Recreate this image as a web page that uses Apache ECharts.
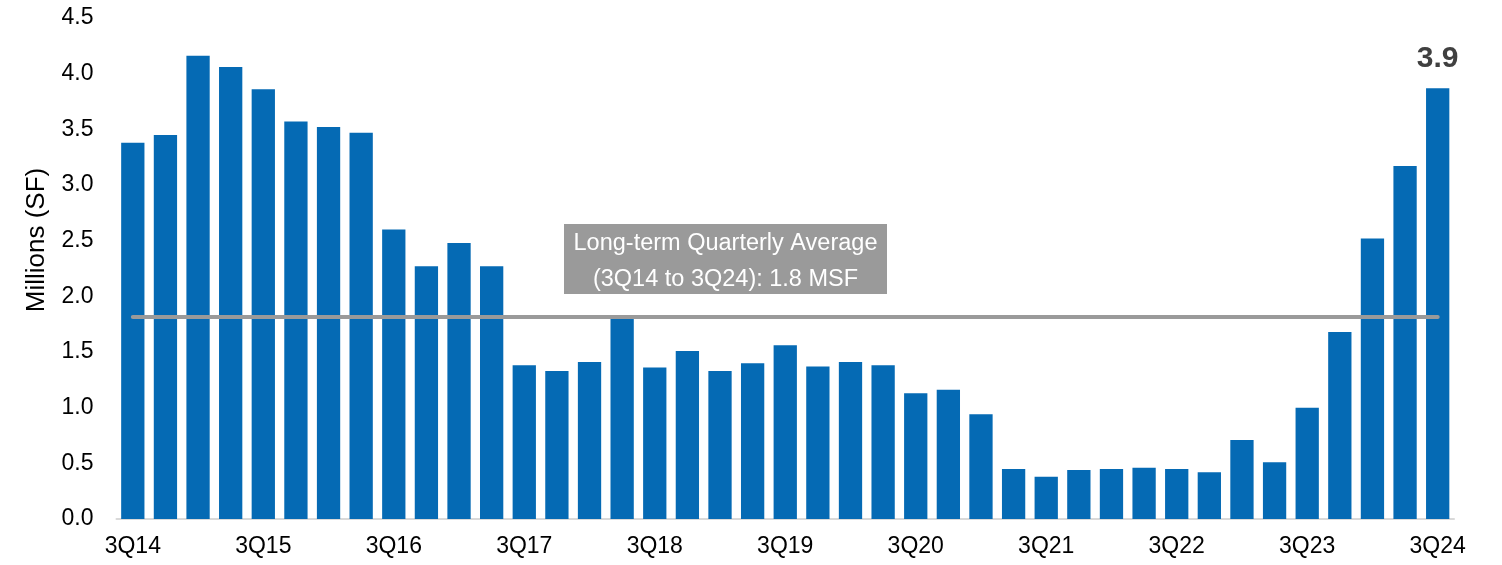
<!DOCTYPE html>
<html>
<head>
<meta charset="utf-8">
<style>
  html, body { margin: 0; padding: 0; background: #ffffff; }
  #chart { width: 1502px; height: 565px; }
</style>
<script src="https://cdn.jsdelivr.net/npm/echarts@6/dist/echarts.min.js"></script>
</head>
<body>
<div id="chart"></div>
<script>
const categories = [
  '3Q14','4Q14','1Q15','2Q15','3Q15','4Q15','1Q16','2Q16','3Q16','4Q16',
  '1Q17','2Q17','3Q17','4Q17','1Q18','2Q18','3Q18','4Q18','1Q19','2Q19',
  '3Q19','4Q19','1Q20','2Q20','3Q20','4Q20','1Q21','2Q21','3Q21','4Q21',
  '1Q22','2Q22','3Q22','4Q22','1Q23','2Q23','3Q23','4Q23','1Q24','2Q24',
  '3Q24'
];
const values = [
  3.38, 3.45, 4.16, 4.06, 3.86, 3.57, 3.52, 3.47, 2.60, 2.27,
  2.48, 2.27, 1.38, 1.33, 1.41, 1.80, 1.36, 1.51, 1.33, 1.40,
  1.56, 1.37, 1.41, 1.38, 1.13, 1.16, 0.94, 0.45, 0.38, 0.44,
  0.45, 0.46, 0.45, 0.42, 0.71, 0.51, 1.00, 1.68, 2.52, 3.17,
  3.87
];
const longTermAverage = 1.82;
const yTicks = { min: 0, max: 4.5, interval: 0.5 };
const lastLabel = '3.9';
const annotationLines = ['Long-term Quarterly Average', '(3Q14 to 3Q24): 1.8 MSF'];
const yAxisTitle = 'Millions (SF)';

const chart = echarts.init(document.getElementById('chart'));
const fontFamily = 'Liberation Sans, Arial, Helvetica, sans-serif';

const barData = values.map((v, i) => {
  if (i === values.length - 1) {
    return {
      value: v,
      label: {
        show: true,
        position: 'top',
        distance: 14,
        formatter: lastLabel,
        fontSize: 30,
        fontWeight: 'bold',
        color: '#404040',
        fontFamily: fontFamily
      }
    };
  }
  return v;
});

chart.setOption({
  animation: false,
  backgroundColor: '#ffffff',
  grid: { left: 116.5, right: 48, top: 18, bottom: 46 },
  xAxis: {
    type: 'category',
    data: categories,
    axisLine: { show: true, lineStyle: { color: '#d9d9d9', width: 2 } },
    axisTick: { show: false },
    axisLabel: {
      interval: 3,
      color: '#000000',
      fontSize: 23,
      fontFamily: fontFamily,
      margin: 16
    },
    splitLine: { show: false }
  },
  yAxis: {
    type: 'value',
    min: yTicks.min,
    max: yTicks.max,
    interval: yTicks.interval,
    axisLine: { show: false },
    axisTick: { show: false },
    splitLine: { show: false },
    axisLabel: {
      color: '#000000',
      fontSize: 23,
      fontFamily: fontFamily,
      margin: 23,
      formatter: v => v.toFixed(1)
    }
  },
  graphic: [
    {
      type: 'text',
      x: 37,
      y: 240,
      rotation: Math.PI / 2,
      style: {
        text: yAxisTitle,
        fill: '#000000',
        font: '26px ' + fontFamily,
        textAlign: 'center',
        textVerticalAlign: 'middle'
      }
    },
    {
      type: 'rect',
      shape: { x: 564, y: 224, width: 323, height: 70 },
      style: { fill: '#9a9a9a' },
      z: 10
    },
    {
      type: 'text',
      x: 725.5,
      y: 244,
      style: {
        text: annotationLines[0],
        fill: '#ffffff',
        font: '23.5px ' + fontFamily,
        textAlign: 'center',
        textVerticalAlign: 'middle'
      },
      z: 11
    },
    {
      type: 'text',
      x: 725.5,
      y: 280,
      style: {
        text: annotationLines[1],
        fill: '#ffffff',
        font: '23.5px ' + fontFamily,
        textAlign: 'center',
        textVerticalAlign: 'middle'
      },
      z: 11
    }
  ],
  series: [
    {
      type: 'bar',
      data: barData,
      barCategoryGap: '28.6%',
      itemStyle: { color: '#056ab4' },
      markLine: {
        silent: true,
        symbol: ['none', 'none'],
        label: { show: false },
        lineStyle: { color: '#9a9a9a', width: 4, type: 'solid', cap: 'round' },
        data: [
          [
            { coord: [0, longTermAverage] },
            { coord: [values.length - 1, longTermAverage] }
          ]
        ]
      }
    }
  ]
});
</script>
</body>
</html>
